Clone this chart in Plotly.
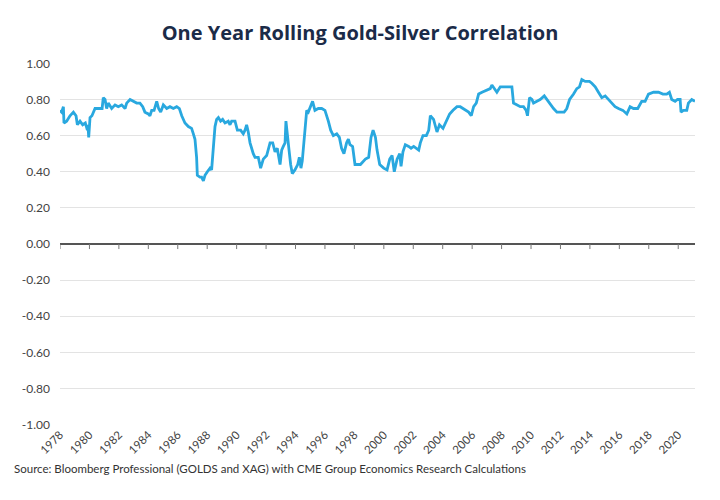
import plotly.graph_objects as go

# one year rolling gold-silver correlation
years = [
  1978.0, 1978.11, 1978.23, 1978.27, 1978.45, 1978.68, 1978.91, 1979.09, 1979.18, 1979.36,
  1979.54, 1979.72, 1979.86, 1979.9, 1979.95, 1980.04, 1980.17, 1980.38, 1980.72, 1980.86,
  1980.94, 1981.06, 1981.17, 1981.28, 1981.51, 1981.74, 1981.96, 1982.19, 1982.42, 1982.53,
  1982.76, 1982.98, 1983.21, 1983.43, 1983.62, 1983.77, 1984.0, 1984.11, 1984.23, 1984.39,
  1984.57, 1984.7, 1984.84, 1985.02, 1985.25, 1985.47, 1985.7, 1985.93, 1986.11, 1986.27,
  1986.49, 1986.72, 1986.94, 1987.06, 1987.17, 1987.28, 1987.33, 1987.51, 1987.62, 1987.74,
  1987.85, 1988.01, 1988.19, 1988.3, 1988.42, 1988.53, 1988.64, 1988.76, 1988.91, 1989.05,
  1989.21, 1989.43, 1989.55, 1989.66, 1989.89, 1990.05, 1990.27, 1990.45, 1990.57, 1990.68,
  1990.79, 1990.91, 1991.13, 1991.25, 1991.47, 1991.63, 1991.81, 1992.04, 1992.27, 1992.45,
  1992.61, 1992.76, 1992.95, 1993.06, 1993.17, 1993.29, 1993.35, 1993.44, 1993.56, 1993.67,
  1993.78, 1993.96, 1994.15, 1994.26, 1994.37, 1994.46, 1994.58, 1994.76, 1994.87, 1994.98,
  1995.16, 1995.32, 1995.55, 1995.78, 1996.0, 1996.23, 1996.39, 1996.57, 1996.8, 1996.98,
  1997.13, 1997.29, 1997.47, 1997.59, 1997.7, 1997.88, 1998.04, 1998.41, 1998.75, 1998.97,
  1999.13, 1999.27, 1999.43, 1999.54, 1999.72, 1999.99, 2000.22, 2000.4, 2000.56, 2000.71,
  2000.9, 2001.08, 2001.17, 2001.3, 2001.46, 2001.69, 2001.85, 2002.03, 2002.21, 2002.37,
  2002.48, 2002.66, 2002.89, 2003.05, 2003.16, 2003.38, 2003.61, 2003.78, 2004.02, 2004.24,
  2004.47, 2004.7, 2004.97, 2005.19, 2005.38, 2005.6, 2005.76, 2005.94, 2006.1, 2006.28,
  2006.44, 2006.67, 2007.0, 2007.23, 2007.34, 2007.5, 2007.68, 2007.91, 2008.14, 2008.48,
  2008.7, 2008.81, 2009.04, 2009.27, 2009.49, 2009.67, 2009.76, 2009.9, 2010.06, 2010.17,
  2010.4, 2010.62, 2010.9, 2011.08, 2011.3, 2011.53, 2011.76, 2011.98, 2012.25, 2012.43,
  2012.62, 2012.89, 2013.11, 2013.29, 2013.45, 2013.68, 2013.97, 2014.13, 2014.36, 2014.58,
  2014.81, 2015.04, 2015.26, 2015.48, 2015.71, 2015.94, 2016.24, 2016.51, 2016.73, 2016.96,
  2017.25, 2017.52, 2017.75, 2017.98, 2018.32, 2018.66, 2018.96, 2019.22, 2019.4, 2019.56,
  2019.79, 2019.95, 2020.13, 2020.19, 2020.35, 2020.58, 2020.69, 2020.92, 2021.14,
]
corr = [
  0.74, 0.73, 0.76, 0.67, 0.68, 0.71, 0.73, 0.71, 0.66, 0.68,
  0.66, 0.67, 0.63, 0.66, 0.59, 0.70, 0.71, 0.75, 0.75, 0.75,
  0.81, 0.80, 0.75, 0.78, 0.75, 0.77, 0.76, 0.77, 0.75, 0.78,
  0.80, 0.79, 0.78, 0.78, 0.76, 0.73, 0.72, 0.71, 0.74, 0.74,
  0.79, 0.75, 0.73, 0.77, 0.75, 0.76, 0.75, 0.76, 0.75, 0.71,
  0.67, 0.65, 0.64, 0.61, 0.58, 0.48, 0.38, 0.37, 0.37, 0.35,
  0.38, 0.40, 0.42, 0.41, 0.52, 0.65, 0.69, 0.70, 0.68, 0.69,
  0.67, 0.68, 0.66, 0.68, 0.68, 0.63, 0.63, 0.61, 0.63, 0.66,
  0.62, 0.56, 0.50, 0.48, 0.48, 0.42, 0.47, 0.49, 0.56, 0.56,
  0.51, 0.53, 0.44, 0.52, 0.54, 0.56, 0.68, 0.59, 0.52, 0.44,
  0.39, 0.41, 0.44, 0.48, 0.42, 0.46, 0.56, 0.74, 0.73, 0.75,
  0.79, 0.74, 0.75, 0.75, 0.74, 0.68, 0.63, 0.60, 0.61, 0.59,
  0.53, 0.50, 0.56, 0.58, 0.55, 0.54, 0.44, 0.44, 0.47, 0.48,
  0.59, 0.63, 0.59, 0.52, 0.44, 0.42, 0.41, 0.47, 0.49, 0.40,
  0.47, 0.50, 0.43, 0.51, 0.55, 0.54, 0.53, 0.54, 0.53, 0.52,
  0.56, 0.60, 0.60, 0.63, 0.71, 0.69, 0.62, 0.66, 0.64, 0.68,
  0.72, 0.74, 0.76, 0.76, 0.75, 0.74, 0.73, 0.71, 0.76, 0.78,
  0.83, 0.84, 0.85, 0.86, 0.88, 0.86, 0.84, 0.87, 0.87, 0.87,
  0.87, 0.78, 0.77, 0.76, 0.76, 0.74, 0.71, 0.81, 0.80, 0.78,
  0.79, 0.80, 0.82, 0.80, 0.77, 0.75, 0.73, 0.73, 0.73, 0.75,
  0.80, 0.83, 0.86, 0.87, 0.91, 0.90, 0.90, 0.89, 0.87, 0.84,
  0.81, 0.82, 0.80, 0.78, 0.76, 0.75, 0.74, 0.72, 0.76, 0.75,
  0.75, 0.79, 0.79, 0.83, 0.84, 0.84, 0.83, 0.83, 0.84, 0.80,
  0.79, 0.80, 0.80, 0.73, 0.74, 0.74, 0.78, 0.80, 0.79,
]

y_ticks = [1.0, 0.8, 0.6, 0.4, 0.2, 0.0, -0.2, -0.4, -0.6, -0.8, -1.0]
y_labels = ["1.00", "0.80", "0.60", "0.40", "0.20", "0.00", "-0.20", "-0.40", "-0.60", "-0.80", "-1.00"]
x_ticks = list(range(1978, 2021, 2))
x_labels = [str(y) for y in x_ticks]

font_name = "Lato"
label_color = "#444444"

fig = go.Figure()
fig.add_trace(go.Scatter(
  x=years, y=corr, mode="lines",
  line=dict(color="#29a8df", width=2.8),
  showlegend=False, hoverinfo="x+y"
))
# small tick marks hanging below the zero line, one per labelled year
fig.add_trace(go.Scatter(
  x=x_ticks, y=[0] * len(x_ticks), mode="markers",
  marker=dict(size=1, opacity=0),
  error_y=dict(type="data", symmetric=False, array=[0] * len(x_ticks),
               arrayminus=[0.028] * len(x_ticks), color="#777777", thickness=1, width=0),
  showlegend=False, hoverinfo="skip"
))

# the page body adds 8px on each side, so the figure is a bit smaller than the window
fig.update_layout(
  width=704, height=484,
  margin=dict(l=52, r=17, t=55, b=67),
  paper_bgcolor="white", plot_bgcolor="white",
  font=dict(family=font_name, color=label_color),
  title=dict(
    text="<b>One Year Rolling Gold-Silver Correlation</b>",
    x=0.5, xanchor="center", y=0.948, yanchor="middle",
    font=dict(size=20, color="#1b2b48", family="Open Sans")
  ),
  xaxis=dict(
    range=[1978, 2021.14],
    tickmode="array", tickvals=x_ticks, ticktext=x_labels, tickangle=-45,
    showgrid=False, zeroline=False, showline=False, ticks="",
    tickfont=dict(size=11.5, color=label_color), automargin=False
  ),
  yaxis=dict(
    range=[-1.002, 1.002], tickvals=y_ticks, ticktext=y_labels,
    showgrid=True, gridcolor="#e3e3e3", gridwidth=1,
    zeroline=True, zerolinecolor="#555555", zerolinewidth=1.5,
    showline=False, ticks="", ticklabelstandoff=9,
    tickfont=dict(size=12, color=label_color), automargin=False
  ),
)

fig.add_annotation(
  text="Source: Bloomberg Professional (GOLDS and XAG) with CME Group Economics Research Calculations",
  xref="paper", yref="paper", x=-0.0756, y=-0.12,
  xanchor="left", yanchor="middle", showarrow=False,
  font=dict(size=11.5, color="#333333", family=font_name)
)

fig.write_html("out.html")
